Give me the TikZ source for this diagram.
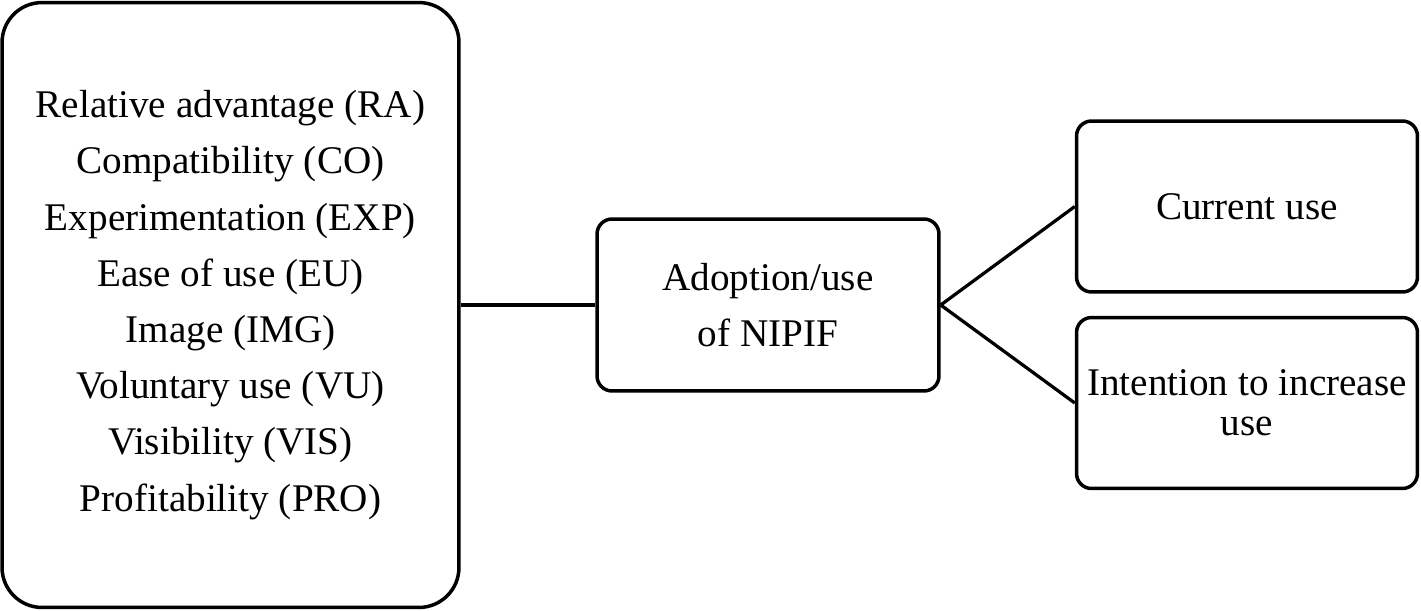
\documentclass[tikz,border=0pt]{standalone}
\usepackage{fontspec}
\setmainfont{Liberation Serif}
\usepackage{tikz}
\usetikzlibrary{calc}
\tikzset{
  factorbox/.style={draw, line width=0.07cm, rounded corners=0.8cm, align=center,
    minimum width=9.14cm, minimum height=12.1cm, font=\fontsize{22.3}{32}\selectfont},
  stagebox/.style={draw, line width=0.07cm, rounded corners=0.3cm, align=center,
    minimum width=6.82cm, minimum height=3.42cm, font=\fontsize{22.3}{32}\selectfont},
  link/.style={line width=0.065cm},
}

\begin{document}
\begin{tikzpicture}[x=0.02cm, y=-0.02cm]
      \useasboundingbox (0,0) rectangle (1421,610);

      \node[factorbox] at (230.5,305) (factors) {Relative advantage (RA)\\
        Compatibility (CO)\\ Experimentation (EXP)\\ Ease of use (EU)\\
        Image (IMG)\\ Voluntary use (VU)\\ Visibility (VIS)\\ Profitability (PRO)};

      \node[stagebox, minimum width=6.84cm, minimum height=3.44cm] at (768,305) (adoption) {Adoption/use\\ of NIPIF};

      \node[stagebox] at (1247,206.5) (current) {Current use};
      \node[stagebox, font=\fontsize{22.3}{22.8}\selectfont] at (1247,403) (intention) {Intention to increase\\ use};

      \draw[link] (factors.east) -- (adoption.west);
      \draw[link] (adoption.east) -- (current.west);
      \draw[link] (adoption.east) -- (intention.west);
\end{tikzpicture}
\end{document}
